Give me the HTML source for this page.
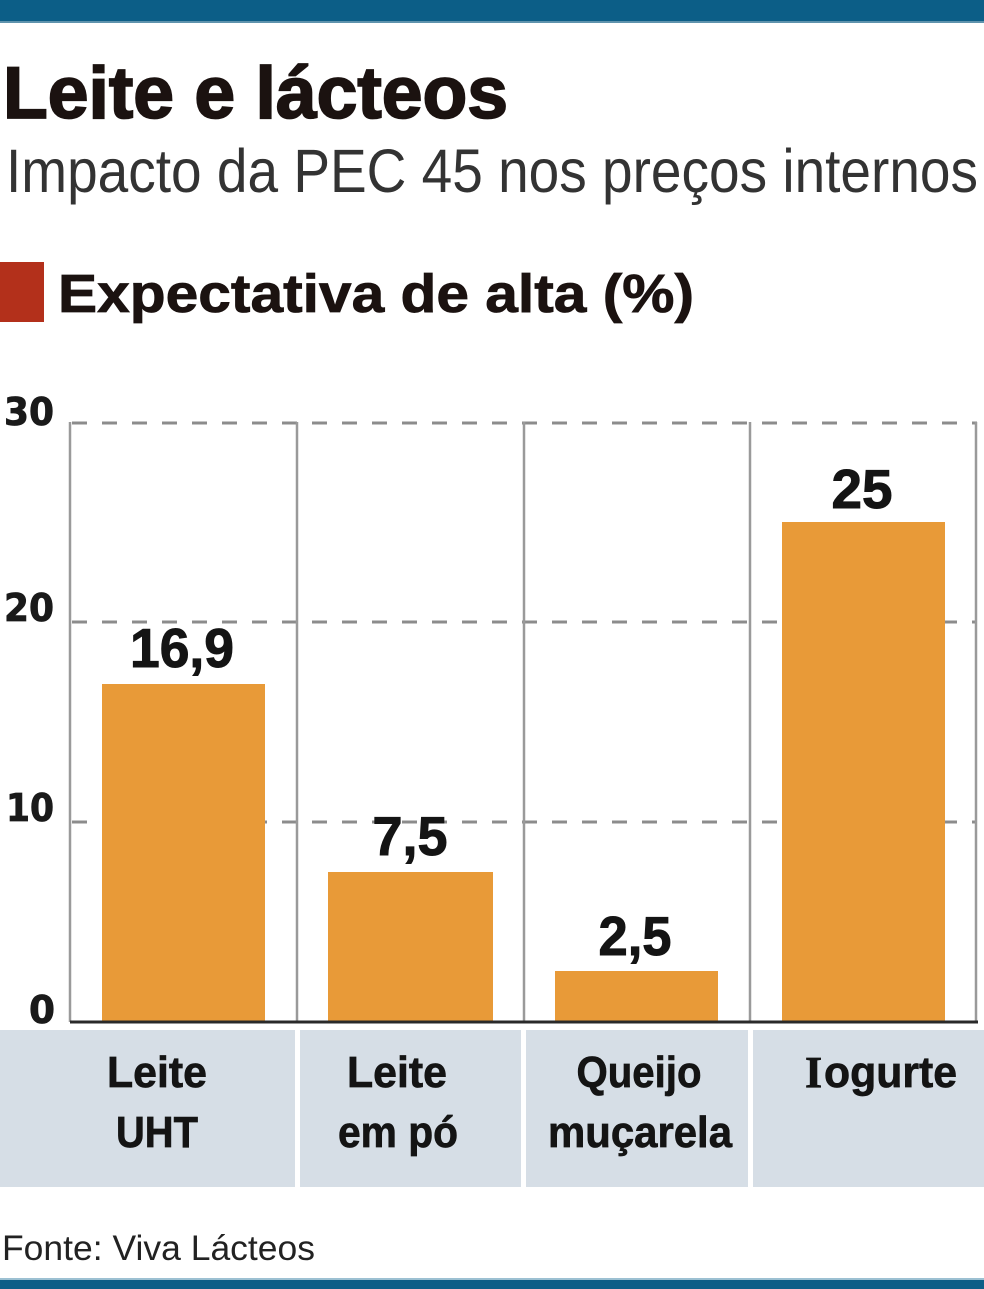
<!DOCTYPE html>
<html>
<head>
<meta charset="utf-8">
<style>
  html,body{margin:0;padding:0;background:#fff;}
  svg{display:block;}
</style>
</head>
<body>
<svg width="984" height="1289" viewBox="0 0 984 1289" xmlns="http://www.w3.org/2000/svg">
  <rect x="0" y="0" width="984" height="1289" fill="#ffffff"/>
  <!-- top bar -->
  <rect x="0" y="0" width="984" height="22" fill="#0c5e87"/>
  <rect x="0" y="21" width="984" height="2" fill="#5f93ad"/>

  <!-- title -->
  <text x="3" y="118" font-family="Liberation Sans, sans-serif" font-weight="bold" font-size="73" fill="#1b1210" stroke="#1b1210" stroke-width="1.8" textLength="505" lengthAdjust="spacingAndGlyphs">Leite e lácteos</text>
  <!-- subtitle -->
  <text x="6" y="192" font-family="Liberation Sans, sans-serif" font-size="61" fill="#333333" textLength="972" lengthAdjust="spacingAndGlyphs">Impacto da PEC 45 nos preços internos</text>

  <!-- legend -->
  <rect x="0" y="262" width="44" height="60" fill="#b3301b"/>
  <text x="58" y="312" font-family="Liberation Sans, sans-serif" font-weight="bold" font-size="54" fill="#1b1210" stroke="#1b1210" stroke-width="0.8" textLength="636" lengthAdjust="spacingAndGlyphs">Expectativa de alta (%)</text>

  <!-- y tick labels -->
  <g font-family="DejaVu Sans, sans-serif" font-weight="bold" font-size="38" fill="#1a1a1a" text-anchor="end" stroke="#1a1a1a" stroke-width="0.8">
    <text x="54" y="425" textLength="50" lengthAdjust="spacingAndGlyphs">30</text>
    <text x="54" y="621" textLength="50" lengthAdjust="spacingAndGlyphs">20</text>
    <text x="54" y="821" textLength="48" lengthAdjust="spacingAndGlyphs">10</text>
    <text x="55" y="1023" textLength="26" lengthAdjust="spacingAndGlyphs">0</text>
  </g>

  <!-- dashed gridlines -->
  <g stroke="#8c8c8c" stroke-width="3" stroke-dasharray="15 15" fill="none">
    <line x1="72" y1="423" x2="977" y2="423"/>
    <line x1="72" y1="622" x2="977" y2="622"/>
    <line x1="72" y1="822" x2="977" y2="822"/>
  </g>

  <!-- vertical separators -->
  <g stroke="#9a9a9a" stroke-width="2.5">
    <line x1="70" y1="422" x2="70" y2="1022"/>
    <line x1="297" y1="422" x2="297" y2="1022"/>
    <line x1="524" y1="422" x2="524" y2="1022"/>
    <line x1="750" y1="422" x2="750" y2="1022"/>
    <line x1="976" y1="422" x2="976" y2="1022"/>
  </g>

  <!-- bars -->
  <g fill="#e89a38">
    <rect x="102" y="684" width="163" height="338"/>
    <rect x="328" y="872" width="165" height="150"/>
    <rect x="555" y="971" width="163" height="51"/>
    <rect x="782" y="522" width="163" height="500"/>
  </g>

  <!-- baseline -->
  <line x1="70" y1="1022" x2="978" y2="1022" stroke="#2a2a2a" stroke-width="3"/>

  <!-- value labels -->
  <g font-family="Liberation Sans, sans-serif" font-weight="bold" font-size="55" fill="#141414" text-anchor="middle" stroke="#141414" stroke-width="1">
    <text x="182" y="667" textLength="104" lengthAdjust="spacingAndGlyphs">16,9</text>
    <text x="410" y="855" textLength="75" lengthAdjust="spacingAndGlyphs">7,5</text>
    <text x="635" y="955" textLength="73" lengthAdjust="spacingAndGlyphs">2,5</text>
    <text x="862" y="508" textLength="61" lengthAdjust="spacingAndGlyphs">25</text>
  </g>

  <!-- category panel -->
  <rect x="0" y="1030" width="984" height="157" fill="#d6dee6"/>
  <g fill="#ffffff">
    <rect x="295" y="1030" width="5" height="157"/>
    <rect x="521" y="1030" width="5" height="157"/>
    <rect x="748" y="1030" width="5" height="157"/>
  </g>

  <g font-family="Liberation Sans, sans-serif" font-weight="bold" font-size="44" fill="#141414" text-anchor="middle" stroke="#141414" stroke-width="0.7">
    <text x="157" y="1087" textLength="100" lengthAdjust="spacingAndGlyphs">Leite</text>
    <text x="157" y="1147" textLength="82" lengthAdjust="spacingAndGlyphs">UHT</text>
    <text x="397" y="1087" textLength="100" lengthAdjust="spacingAndGlyphs">Leite</text>
    <text x="398" y="1147" textLength="120" lengthAdjust="spacingAndGlyphs">em pó</text>
    <text x="639" y="1087" textLength="125" lengthAdjust="spacingAndGlyphs">Queijo</text>
    <text x="640" y="1147" textLength="184" lengthAdjust="spacingAndGlyphs">muçarela</text>
  </g>
  <text x="805" y="1087" font-family="Liberation Serif, serif" font-weight="bold" font-size="44" fill="#141414" stroke="#141414" stroke-width="0.7">I</text>
  <text x="824" y="1087" font-family="Liberation Sans, sans-serif" font-weight="bold" font-size="44" fill="#141414" stroke="#141414" stroke-width="0.7" textLength="133" lengthAdjust="spacingAndGlyphs">ogurte</text>

  <!-- source -->
  <text x="2" y="1260" font-family="Liberation Sans, sans-serif" font-size="35" fill="#222222" textLength="313" lengthAdjust="spacingAndGlyphs">Fonte: Viva Lácteos</text>

  <!-- bottom bar -->
  <rect x="0" y="1278" width="984" height="2" fill="#9cc0d2"/>
  <rect x="0" y="1280" width="984" height="9" fill="#0c5e87"/>
</svg>
</body>
</html>
